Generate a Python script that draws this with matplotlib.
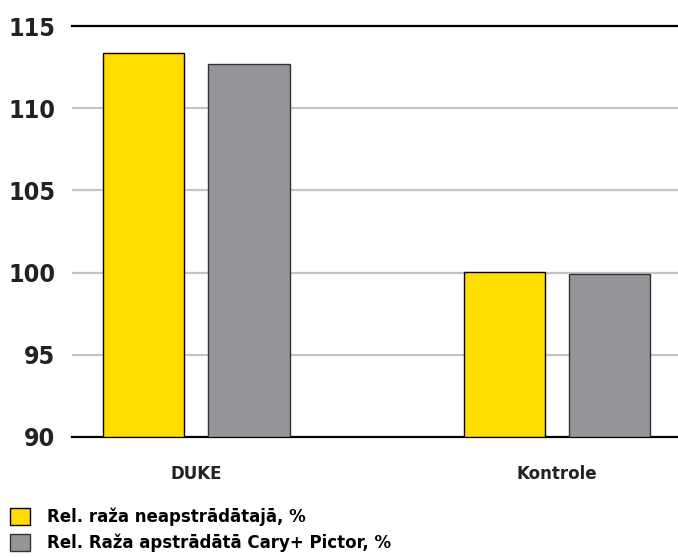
import numpy as np
import matplotlib
matplotlib.use("Agg")
import matplotlib.pyplot as plt
from matplotlib.patches import Patch

# data
categories = ["DUKE", "Kontrole"]
series_names = ["Rel. raža neapstrādātajā, %", "Rel. Raža apstrādātā Cary+ Pictor, %"]
untreated = [113.35, 100.05]
treated = [112.7, 99.9]
yticks = [90, 95, 100, 105, 110, 115]

yellow = "#FFDD00"
grey = "#939598"

plt.rcParams['font.family'] = ['DejaVu Sans']

fig = plt.figure(figsize=(6.78, 5.58), dpi=100)
ax = fig.add_axes([72 / 678, (558 - 437) / 558, 606 / 678, (437 - 26) / 558])

x = np.arange(len(categories))
w = 0.225
off = 0.146
ax.bar(x - off, np.array(untreated) - 90, w, bottom=90, color=yellow,
       edgecolor="black", linewidth=1.0, zorder=3)
ax.bar(x + off, np.array(treated) - 90, w, bottom=90, color=grey,
       edgecolor="#333333", linewidth=1.0, zorder=3)

ax.set_ylim(90, 115)
ax.set_xlim(-0.345, 1.336)
ax.set_yticks(yticks)
ax.set_yticklabels([str(t) for t in yticks], fontsize=18, fontweight="bold",
                   fontstretch="condensed", color="#222222")
ax.set_xticks(x)
ax.set_xticklabels(categories, fontsize=12, fontweight="bold", color="#222222")
ax.tick_params(axis="y", length=0, pad=12)
ax.tick_params(axis="x", length=0, pad=20)

# grid lines, black line at top and bottom
for t in yticks[1:-1]:
    ax.axhline(t, color="#c4c4c4", linewidth=1.6, zorder=1)
for s in ["left", "right"]:
    ax.spines[s].set_visible(False)
ax.spines["top"].set_linewidth(1.6)
ax.spines["bottom"].set_linewidth(1.6)

handles = [Patch(facecolor=yellow, edgecolor="black", linewidth=1.0),
           Patch(facecolor=grey, edgecolor="#333333", linewidth=1.0)]
fig.legend(handles, series_names, loc="upper left", bbox_to_anchor=(0.008, 0.1),
           frameon=False, prop={"size": 12, "weight": "bold"},
           handlelength=1.2, handleheight=1.2, handletextpad=1.0,
           labelspacing=0.45, borderpad=0.3, borderaxespad=0.0)

fig.savefig("out.png", dpi=100)
